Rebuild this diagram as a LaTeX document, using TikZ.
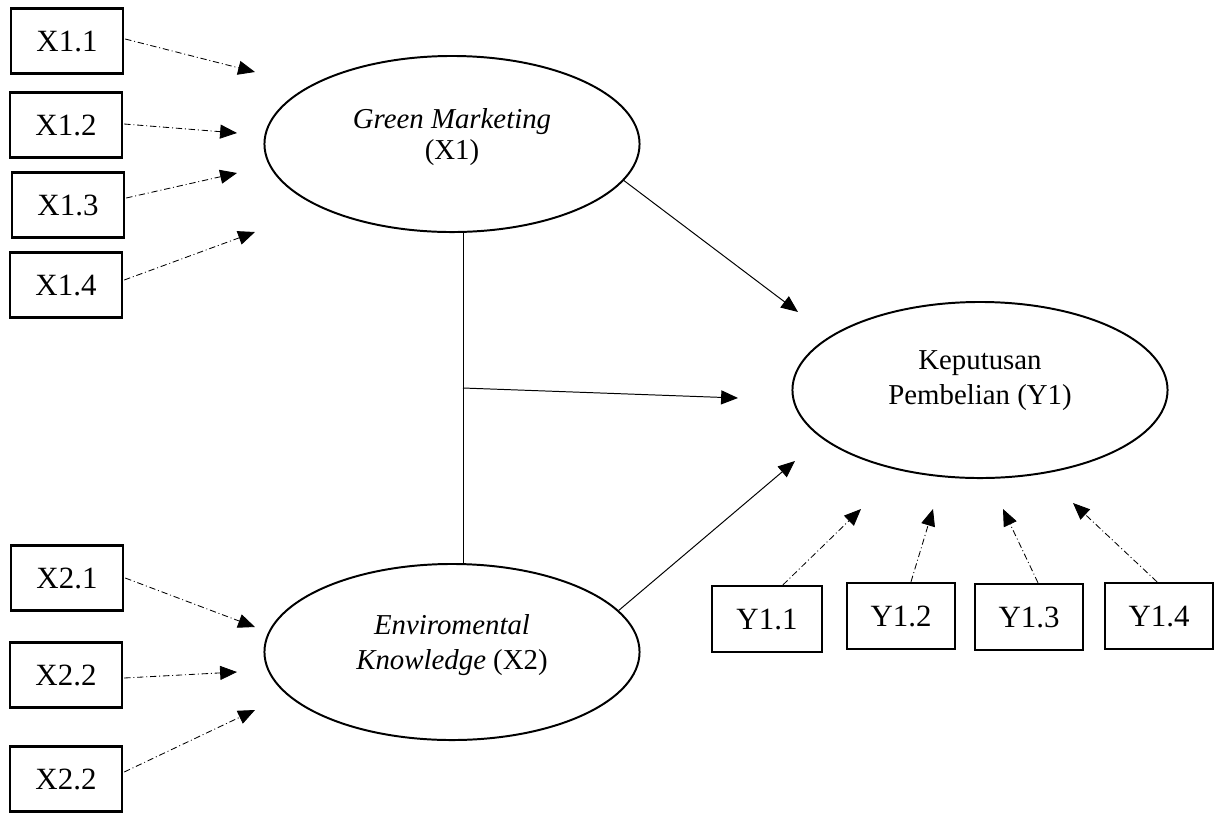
\documentclass[tikz,border=0pt]{standalone}
\usepackage{fontspec}
\setmainfont{Liberation Serif}
\usetikzlibrary{arrows.meta,calc,positioning,shapes.geometric}

\begin{document}
\begin{tikzpicture}[x=0.025cm,y=-0.025cm,
  ind/.style={draw,line width=1.7pt,minimum width=2.8cm,minimum height=1.625cm,inner sep=0pt,
              font=\fontsize{22}{26}\selectfont},
  lat/.style={draw,ellipse,line width=1.4pt,minimum width=9.375cm,minimum height=4.4cm,inner sep=0pt},
  lattxt/.style={align=center,font=\fontsize{20.5}{25}\selectfont},
  ld/.style={-{Triangle[length=12pt,width=10pt]},line width=0.6pt,
             dash pattern=on 4.5pt off 2pt on 0.7pt off 2pt},
  rel/.style={-{Triangle[length=12pt,width=10pt]},line width=0.7pt}]
  \useasboundingbox (0,0) rectangle (1232,812);
  % indicators of X1
  \node[ind] (x11) at (67,41) {X1.1};
  \node[ind] (x12) at (66,125) {X1.2};
  \node[ind] (x13) at (68,205) {X1.3};
  \node[ind] (x14) at (66,285) {X1.4};
  % indicators of X2
  \node[ind] (x21) at (67,578) {X2.1};
  \node[ind] (x22) at (66,675) {X2.2};
  \node[ind] (x23) at (66,779) {X2.2};
  % indicators of Y1
  \node[ind,minimum width=2.75cm,minimum height=1.65cm] (y11) at (767,619) {Y1.1};
  \node[ind,minimum width=2.7cm,minimum height=1.65cm] (y12) at (901,616) {Y1.2};
  \node[ind,minimum width=2.7cm,minimum height=1.65cm] (y13) at (1029,617) {Y1.3};
  \node[ind,minimum width=2.7cm,minimum height=1.65cm] (y14) at (1159,616) {Y1.4};
  % latent variables
  \node[lat] (gm) at (452,144) {};
  \node[lattxt] (gmtext) at (452,137) {\textit{Green Marketing}\\[-3pt](X1)};
  \node[lat] (ek) at (452,652) {};
  \node[lattxt] (ektext) at (452,645) {\textit{Enviromental}\\\textit{Knowledge} (X2)};
  \node[lat] (kp) at (980,390) {};
  \node[lattxt] (kptext) at (980,381) {Keputusan\\Pembelian (Y1)};
  % free arrow ends
  \coordinate (tx11) at (255,72);
  \coordinate (tx12) at (237,133);
  \coordinate (tx13) at (237,173);
  \coordinate (tx14) at (255,232);
  \coordinate (tx21) at (255,627);
  \coordinate (tx22) at (237,672);
  \coordinate (tx23) at (255,710);
  \coordinate (ty11) at (861,509);
  \coordinate (ty12) at (933,509);
  \coordinate (ty13) at (1003,509);
  \coordinate (ty14) at (1073,503);
  \coordinate (gmkp) at (798,312);
  \coordinate (ekkp) at (795,461);
  \coordinate (j) at (463,388);
  \coordinate (jkp) at (738,398);
  \foreach \n/\d in {x11/-2,x12/-1,x13/-7,x14/-5,x21/0,x22/3,x23/-7}
    \draw[ld] ($(\n.east)+(1,\d)$) -- (t\n);
  \foreach \n/\d in {y11/16,y12/10,y13/9,y14/-2}
    \draw[ld] ($(\n.north)+(\d,0)$) -- (t\n);
  \draw[rel] (gm.-12) -- (gmkp);
  \draw[rel] (ek.14) -- (ekkp);
  \draw[line width=0.7pt] (gm.south -| j) -- (ek.north -| j);
  \draw[rel] (j) -- (jkp);
\end{tikzpicture}
\end{document}
